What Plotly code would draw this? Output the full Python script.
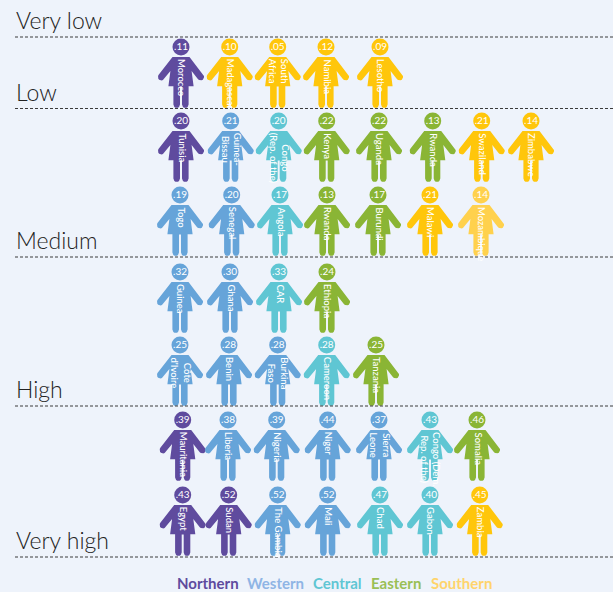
import math
import plotly.graph_objects as go

# ---- data ----
LEVELS = ["Very low", "Low", "Medium", "High", "Very high"]
REGIONS = ["Northern", "Western", "Central", "Eastern", "Southern"]

row1_names = ["Morocco", "Madagascar", "South<br>Africa", "Namibia", "Lesotho"]
row1_values = [".11", ".10", ".05", ".12", ".09"]
row1_regions = ["Northern", "Southern", "Southern", "Southern", "Southern"]

row2_names = ["Tunisia", "Guinea-<br>Bissau", "Congo<br>(Rep. of the)", "Kenya", "Uganda", "Rwanda", "Swaziland", "Zimbabwe"]
row2_values = [".20", ".21", ".20", ".22", ".22", ".13", ".21", ".14"]
row2_regions = ["Northern", "Western", "Central", "Eastern", "Eastern", "Eastern", "Southern", "Southern"]

row3_names = ["Togo", "Senegal", "Angola", "Rwanda", "Burundi", "Malawi", "Mozambique"]
row3_values = [".19", ".20", ".17", ".13", ".17", ".21", ".14"]
row3_regions = ["Western", "Western", "Central", "Eastern", "Eastern", "Southern", "Southern light"]

row4_names = ["Guinea", "Ghana", "CAR", "Ethiopia"]
row4_values = [".32", ".30", ".33", ".24"]
row4_regions = ["Western", "Western", "Central", "Eastern"]

row5_names = ["Côte<br>d'Ivoire", "Benin", "Burkina<br>Faso", "Cameroon", "Tanzania"]
row5_values = [".25", ".28", ".28", ".28", ".25"]
row5_regions = ["Western", "Western", "Western", "Central", "Eastern"]

row6_names = ["Mauritania", "Liberia", "Nigeria", "Niger", "Sierra<br>Leone", "Congo (Dem.<br>Rep. of the)", "Somalia"]
row6_values = [".39", ".38", ".39", ".44", ".37", ".43", ".46"]
row6_regions = ["Northern", "Western", "Western", "Western", "Western", "Central", "Eastern"]

row7_names = ["Egypt", "Sudan", "The Gambia", "Mali", "Chad", "Gabon", "Zambia"]
row7_values = [".43", ".52", ".52", ".52", ".47", ".40", ".45"]
row7_regions = ["Northern", "Northern", "Western", "Western", "Central", "Central", "Southern"]

# ---- layout (page pixels) ----
W, H = 613, 592
ROWS = [
    (row1_names, row1_values, row1_regions, 47, [181, 229.7, 277.7, 326, 380]),
    (row2_names, row2_values, row2_regions, 121, [181, 230.7, 278.7, 326.7, 379, 432.7, 481.7, 531]),
    (row3_names, row3_values, row3_regions, 195, [180, 231.7, 280, 327, 378, 430, 481]),
    (row4_names, row4_values, row4_regions, 272, [180, 230, 279, 327]),
    (row5_names, row5_values, row5_regions, 345, [180, 229, 277.7, 326.7, 376]),
    (row6_names, row6_values, row6_regions, 420, [182.7, 228, 276.7, 327.7, 379, 430, 477]),
    (row7_names, row7_values, row7_regions, 495, [182.7, 228.7, 277.7, 327.7, 380, 430, 479.7]),
]
RULE_Y = [37, 108.5, 257, 406, 557]
LABEL_Y = [19.5, 91.5, 239.5, 388.5, 539.5]
LEGEND_X = [176, 246, 311.5, 370, 430]
COLORS = {
    "Northern": "#5F4B9E", "Western": "#66A4D9", "Central": "#5FC6D3",
    "Eastern": "#8AB535", "Southern": "#FFC60B", "Southern light": "#FFD14D",
}
LEGEND_COLORS = ["#5F4B9E", "#8FB5E5", "#5FC6D3", "#9ABF55", "#FFD46B"]
BG = "#EEF3FB"
FONT = "Lato"


def arc(cx, cy, r, a0, a1, n=8):
    return [(cx + r * math.cos(a0 + (a1 - a0) * i / n),
             cy + r * math.sin(a0 + (a1 - a0) * i / n)) for i in range(n + 1)]


def half_outline():
    pts = [(8.5, 10)]
    a = math.atan2(-0.63, 0.78)
    pts += arc(19.7, 30, 3.4, a, a + math.pi)
    pts += [(10.6, 24), (12.6, 39.3), (7.6, 39.3)]
    pts += arc(4.3, 57.6, 3.3, 0, math.pi)
    pts += [(1.0, 39.6)]
    return pts


RIGHT = half_outline()
BODY = RIGHT + [(-x, y) for x, y in reversed(RIGHT)]

fig = go.Figure()
annotations = []

for names, values, regions, hy, xs in ROWS:
    for name, val, reg, cx in zip(names, values, regions, xs):
        col = COLORS[reg]
        fig.add_trace(go.Scatter(
            x=[cx + p[0] for p in BODY] + [cx + BODY[0][0]],
            y=[hy + p[1] for p in BODY] + [hy + BODY[0][1]],
            mode="lines", fill="toself", fillcolor=col,
            line=dict(color=col, width=0), hoverinfo="skip", showlegend=False))
        fig.add_trace(go.Scatter(
            x=[cx], y=[hy], mode="markers+text", text=[val],
            textposition="middle center",
            textfont=dict(family=FONT, size=10, color="white"),
            marker=dict(size=17, color=col, line=dict(width=0)),
            hoverinfo="skip", showlegend=False))
        annotations.append(dict(
            x=cx + 1, y=hy + 11, xref="x", yref="y", text=name, showarrow=False,
            textangle=90, xanchor="center", yanchor="top", align="center",
            font=dict(family=FONT, size=9.5, weight=500, color="white"), borderpad=0))

for y in RULE_Y:
    fig.add_trace(go.Scatter(x=[15, W], y=[y, y], mode="lines",
                             line=dict(color="#3A3A3A", width=1, dash="3px,2px"),
                             hoverinfo="skip", showlegend=False))

for lab, y in zip(LEVELS, LABEL_Y):
    annotations.append(dict(x=15, y=y, xref="x", yref="y", text=lab, showarrow=False,
                            xanchor="left", yanchor="middle", borderpad=0,
                            font=dict(family=FONT, size=23, weight=300, color="#222222")))

for reg, x, c in zip(REGIONS, LEGEND_X, LEGEND_COLORS):
    annotations.append(dict(x=x, y=583, xref="x", yref="y", text=reg,
                            showarrow=False, xanchor="left", yanchor="middle", borderpad=0,
                            font=dict(family=FONT, size=15, weight=700, color=c)))

fig.update_layout(
    width=W, height=H, margin=dict(l=0, r=0, t=0, b=0),
    paper_bgcolor=BG, plot_bgcolor=BG, showlegend=False,
    annotations=annotations,
    xaxis=dict(range=[0, W], visible=False, fixedrange=True),
    yaxis=dict(range=[H, 0], visible=False, fixedrange=True),
)
fig.write_html("out.html", config={"displayModeBar": False},
               post_script="document.body.style.margin='0';document.body.style.background='%s';" % BG)
